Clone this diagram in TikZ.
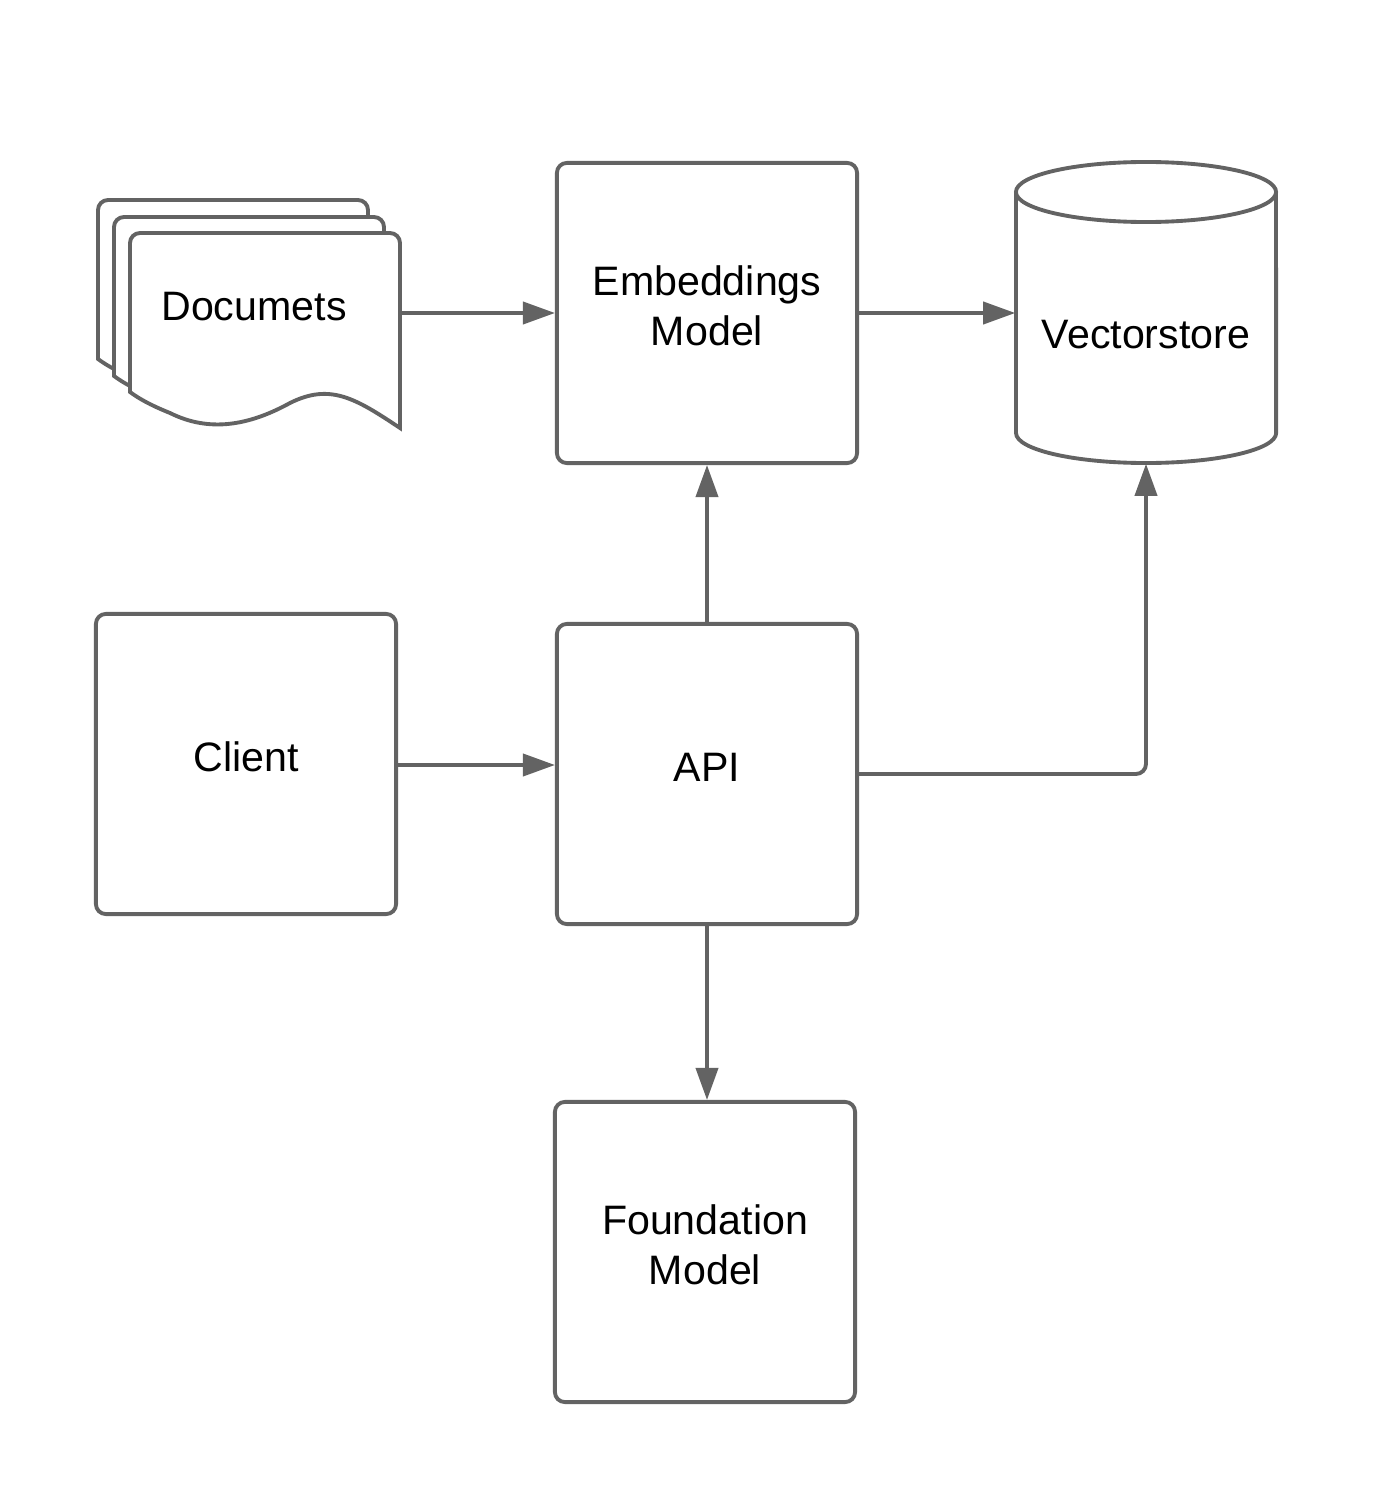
\documentclass[tikz,border=0pt]{standalone}
\usepackage{fontspec}
\setmainfont{Liberation Sans}
\usepackage{xcolor}
\usepackage{tikz}
\usetikzlibrary{positioning,calc,arrows.meta}

\definecolor{edgegray}{RGB}{99,99,99}

\tikzset{
  block/.style={draw=edgegray, line width=1.1pt, rounded corners=0.1cm,
    minimum width=3cm, minimum height=3cm, align=center, text depth=0.14cm,
    font=\fontsize{11.7}{14.2}\selectfont},
  sheet/.style={draw=edgegray, line width=1.1pt, fill=white},
  flow/.style={draw=edgegray, line width=1.1pt,
    -{Triangle[length=0.32cm,width=0.22cm]}},
  lbl/.style={font=\fontsize{11.7}{14.2}\selectfont, align=center}
}

\newcommand{\docsheet}[2]{%
  \path[sheet] (#1,#2+159)
    [rounded corners=0.1cm] -- (#1,#2) -- (#1+270,#2) [sharp corners] -- (#1+270,#2+195)
    .. controls (#1+225,#2+165) and (#1+200,#2+150) .. (#1+160,#2+170)
    .. controls (#1+120,#2+192) and (#1+80,#2+200) .. (#1+40,#2+180)
    .. controls (#1+20,#2+172) and (#1+8,#2+165) .. cycle;}

\begin{document}
\begin{tikzpicture}[x=0.01cm, y=-0.01cm]
  \useasboundingbox (0,0) rectangle (1376,1500);

  % stack of documents
  \docsheet{98}{200}
  \docsheet{114}{217}
  \docsheet{130}{233}
  \node[minimum width=2.7cm, minimum height=1.95cm] (docs) at (265,330) {};
  \node[lbl] (docstext) at (254,307) {Documets};

  % boxes
  \node[block] (emb) at (707,313) {Embeddings\\Model};
  \node[block] (api) at (707,774) {API};
  \node[block] (client) at (246,764) {Client};
  \node[block] (found) at (705,1252) {Foundation\\Model};

  % vector store as cylinder
  \node[minimum width=2.6cm, minimum height=3cm] (vs) at (1146,313) {};
  \draw[edgegray, line width=1.1pt, fill=white]
    (1016,192) -- (1016,433) arc[start angle=180, end angle=360, x radius=1.3cm, y radius=0.3cm]
    -- (1276,192);
  \draw[edgegray, line width=1.1pt] (1146,192) ellipse[x radius=1.3cm, y radius=0.3cm];
  \node[lbl] (vstext) at (1146,335) {Vectorstore};

  % connectors
  \draw[flow] (docs.east |- emb.west) -- (emb.west);
  \draw[flow] (emb.east) -- (vs.west);
  \draw[flow] (api.north) -- (emb.south);
  \draw[flow, rounded corners=0.1cm] (api.east) -- (vs.south |- api.east) -- (vs.south);
  \draw[flow] (client.east |- 0,765) -- (api.west |- 0,765);
  \draw[flow] (api.south) -- (api.south |- found.north);
\end{tikzpicture}
\end{document}
